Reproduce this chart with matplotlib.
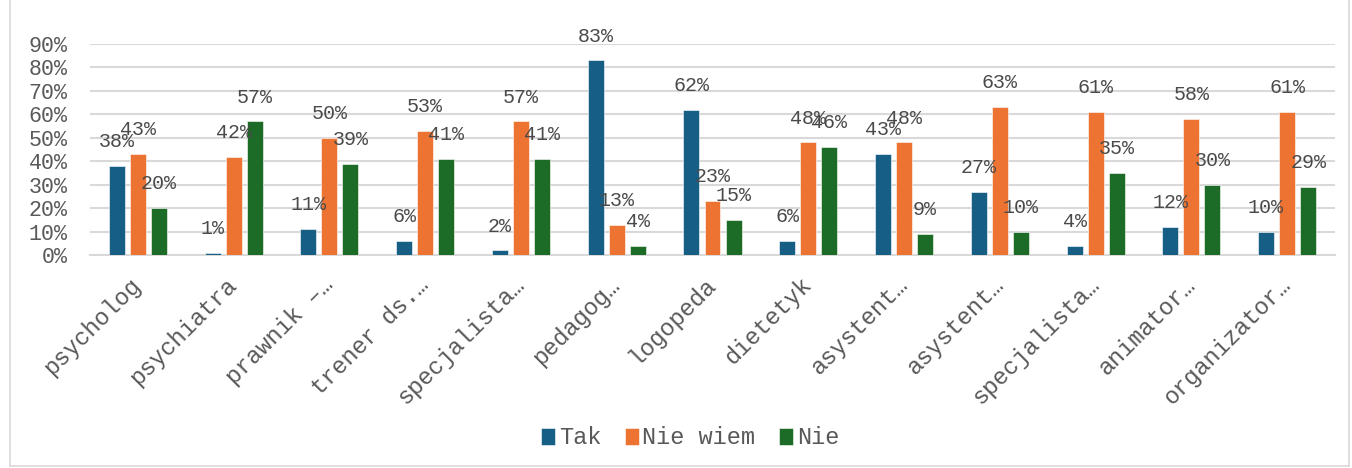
import matplotlib.pyplot as plt
import numpy as np
from matplotlib.ticker import PercentFormatter
from matplotlib.lines import Line2D

plt.rcParams['font.family'] = ['Liberation Mono', 'DejaVu Sans']

categories = ['psycholog', 'psychiatra', 'prawnik –…', 'trener ds.…', 'specjalista…',
              'pedagog…', 'logopeda', 'dietetyk', 'asystent…', 'asystent…',
              'specjalista…', 'animator…', 'organizator…']
tak = [38, 1, 11, 6, 2, 83, 62, 6, 43, 27, 4, 12, 10]
nie_wiem = [43, 42, 50, 53, 57, 13, 23, 48, 48, 63, 61, 58, 61]
nie = [20, 57, 39, 41, 41, 4, 15, 46, 9, 10, 35, 30, 29]

series = [('Tak', tak, '#175e84'), ('Nie wiem', nie_wiem, '#ec7331'), ('Nie', nie, '#1c6b26')]

fig = plt.figure(figsize=(13.52, 4.68), dpi=100)
ax = fig.add_axes([90 / 1352, 1 - 255 / 468, 1245 / 1352, 211 / 468])

x = np.arange(len(categories))
width = 0.167
step = 0.22
for i, (name, vals, col) in enumerate(series):
    xs = x + (i - 1) * step
    ax.bar(xs, vals, width, color=col, label=name, zorder=3,
           edgecolor='white', linewidth=0.4)
    for xi, v in zip(xs, vals):
        ax.annotate(f'{v}%', (xi, v), xytext=(0, 17.5), textcoords='offset points',
                    ha='center', va='center', fontsize=14.4, color='#4a4a4a', zorder=4)

ax.set_xlim(-0.5, len(categories) - 0.5)
ax.set_ylim(0, 90)
ax.set_yticks(range(0, 91, 10))
ax.yaxis.set_major_formatter(PercentFormatter(decimals=0))
ax.grid(axis='y', color='#d9d9d9', linewidth=1.5, zorder=0)
for s in ['top', 'right', 'left']:
    ax.spines[s].set_visible(False)
ax.spines['bottom'].set_color('#d9d9d9')
ax.spines['bottom'].set_linewidth(1.5)
ax.tick_params(axis='both', length=0, colors='#595959')
ax.tick_params(axis='y', labelsize=15.6, pad=16)
ax.set_xticks(x)
ax.set_xticklabels(categories, rotation=45, ha='right', va='center',
                   rotation_mode='anchor', fontsize=17)
ax.tick_params(axis='x', pad=19)

leg = fig.legend(loc='center', bbox_to_anchor=(690 / 1352, 1 - 438 / 468), ncol=3,
                 frameon=False, fontsize=17, handlelength=0.6, handleheight=0.7,
                 handletextpad=0.15, columnspacing=1.0, labelcolor='#595959')

# figure border
for xy in [([10, 10], [0, 466]), ([1349, 1349], [0, 466]), ([10, 1349], [466, 466])]:
    fig.add_artist(Line2D([p / 1352 for p in xy[0]], [1 - p / 468 for p in xy[1]],
                          color='#d9d9d9', linewidth=1.2))

fig.savefig('out.png', dpi=100, facecolor='white')
